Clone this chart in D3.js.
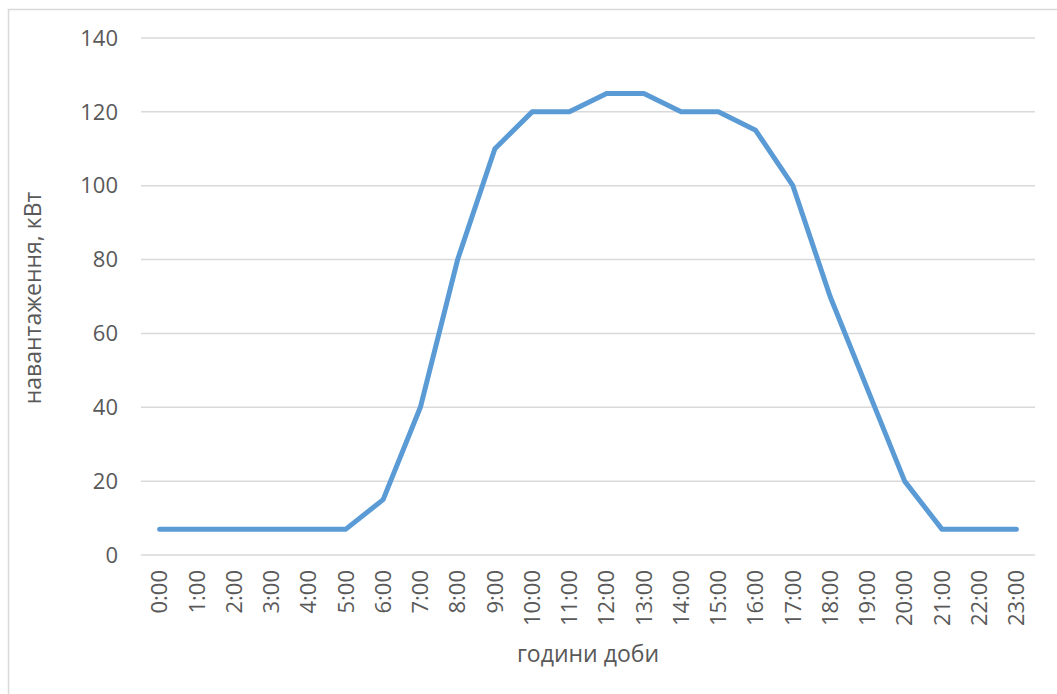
<!DOCTYPE html>
<html>
<head>
<meta charset="utf-8">
<script src="https://d3js.org/d3.v7.min.js"></script>
<style>
  body { margin: 0; background: #fff; }
  text { font-family: "Open Sans", sans-serif; fill: #595959; }
</style>
</head>
<body>
<div id="chart"></div>
<script>
// hours of the day and load values (kW)
var hours = ["0:00","1:00","2:00","3:00","4:00","5:00","6:00","7:00","8:00","9:00","10:00","11:00",
             "12:00","13:00","14:00","15:00","16:00","17:00","18:00","19:00","20:00","21:00","22:00","23:00"];
var load = [7, 7, 7, 7, 7, 7, 15, 40, 80, 110, 120, 120, 125, 125, 120, 120, 115, 100, 70, 45, 20, 7, 7, 7];
var yTicks = [0, 20, 40, 60, 80, 100, 120, 140];

var W = 1057, H = 694;
var plot = {left: 141, right: 1035, top: 38, bottom: 555};

var svg = d3.select("#chart").append("svg")
    .attr("width", W)
    .attr("height", H);

// chart frame
svg.append("rect")
    .attr("x", 8.5).attr("y", 9.5)
    .attr("width", W + 10).attr("height", H + 10)
    .style("fill", "none")
    .style("stroke", "#d9d9d9")
    .style("stroke-width", 1.5);

var x = d3.scalePoint().domain(hours)
    .range([plot.left, plot.right]).padding(0.5);
var y = d3.scaleLinear().domain([0, 140]).range([plot.bottom, plot.top]);

// gridlines
svg.append("g").selectAll("line")
    .data(yTicks)
    .join("line")
    .attr("x1", plot.left).attr("x2", plot.right)
    .attr("y1", function(d) { return y(d); })
    .attr("y2", function(d) { return y(d); })
    .style("stroke", "#d9d9d9")
    .style("stroke-width", 1.5);

// y tick labels
svg.append("g").selectAll("text")
    .data(yTicks)
    .join("text")
    .attr("x", 118)
    .attr("y", function(d) { return y(d); })
    .attr("dy", "0.35em")
    .style("text-anchor", "end")
    .style("font-size", "22px")
    .text(function(d) { return d; });

// x tick labels (rotated)
svg.append("g").selectAll("text")
    .data(hours)
    .join("text")
    .attr("transform", function(d) { return "translate(" + x(d) + ",570) rotate(-90)"; })
    .attr("dy", "0.35em")
    .style("text-anchor", "end")
    .style("font-size", "22px")
    .text(function(d) { return d; });

// series
var line = d3.line()
    .x(function(d, i) { return x(hours[i]); })
    .y(function(d) { return y(d); });

svg.append("path")
    .datum(load)
    .attr("d", line)
    .style("fill", "none")
    .style("stroke", "#5b9bd5")
    .style("stroke-width", 5)
    .style("stroke-linejoin", "round")
    .style("stroke-linecap", "round");

// axis titles
svg.append("text")
    .attr("x", 588).attr("y", 654)
    .attr("dy", "0.35em")
    .style("text-anchor", "middle")
    .style("font-size", "23px")
    .text("години доби");

svg.append("text")
    .attr("transform", "translate(33,298) rotate(-90)")
    .attr("dy", "0.35em")
    .style("text-anchor", "middle")
    .style("font-size", "23px")
    .text("навантаження, кВт");
</script>
</body>
</html>
